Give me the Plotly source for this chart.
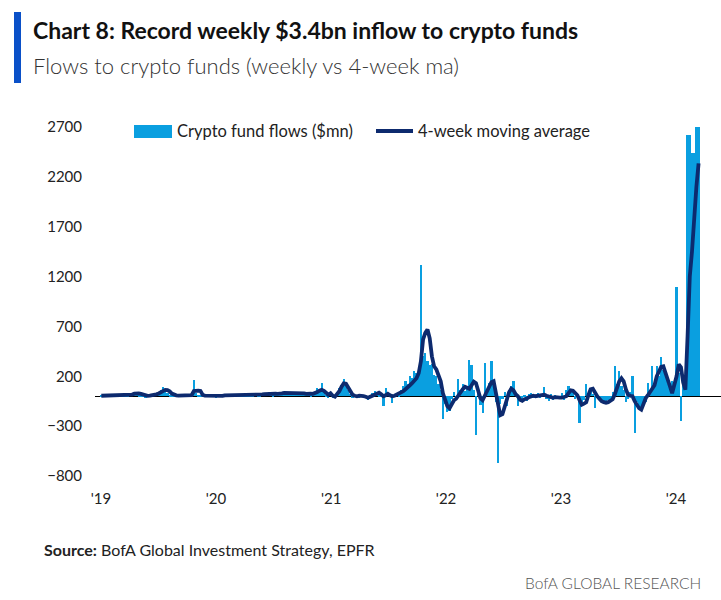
import plotly.graph_objects as go
import pandas as pd

# ---------------- data ($mn) ----------------
flows_2019 = [5, 8, 3, 10, 6, 12, 4, 9, 15, 7,
              10, 5, 12, 20, 30, 40, 25, 15, 10, 8,
              -10, 5, 10, 15, 20, 30, 45, 60, 95, 55,
              35, 10, 5, 8, 10, 6, 4, 8, 10, 5,
              12, 20, 165, 30, 10, 5, 8, 4, 6, 10,
              5, 8]
flows_2020 = [-10, 5, 10, 8, 12, 6, 15, 10, 5, 8,
              12, 10, 6, 10, 15, 12, 8, 10, 20, 15,
              10, 25, 30, 20, 45, 25, 15, 20, 30, 25,
              35, 45, 30, 40, 25, 35, 30, 40, 20, 25,
              30, 20, 35, 15, 25, 40, 85, 60, 130, 60,
              10, -10]
flows_2021 = [20, -10, 10, 40, 80, 110, 175, 100, 60, 20,
              -15, 10, 5, -10, 20, 10, -20, -40, 5, 30,
              50, 40, 15, -5, -100, 85, 20, 10, -65, 15,
              30, 10, 60, 100, 150, 120, 200, 180, 250, 230,
              280, 1320, 400, 430, 350, 310, 320, 210, 200, 120,
              60, -230]
flows_2022 = [-80, -160, -145, -30, 40, -20, 170, 60, 120, 50,
              90, 365, 310, 60, -385, 40, -90, -165, 330, 20,
              130, 350, 80, -60, -665, -80, -30, 40, -100, 60,
              100, 150, 30, -100, -40, -60, 10, -50, 20, 30,
              -20, 10, 30, -10, 20, 90, -30, -50, 20, -40,
              10, -30]
flows_2023 = [-20, 30, -40, 60, 105, 40, 70, -30, 20, -265,
              -60, -40, 125, 30, 80, 20, -115, -20, -40, -60,
              -50, -80, -40, -60, 40, 305, 120, 250, 100, 60,
              -60, -30, 40, 200, -365, -60, -120, -150, -90, -60,
              130, 60, 305, 120, 305, 200, 390, 260, 235, 120,
              60, 150]
flows_2024 = [120, 1100, 235, -250, 120, 60, 2615, 2615, 2440, 2440, 2700, 3400]

ma_2019 = [5, 6, 6, 7, 7, 8, 8, 8, 10, 9,
           10, 9, 9, 11, 17, 26, 29, 28, 23, 15,
           6, 3, 5, 7, 13, 19, 28, 38, 58, 64,
           61, 49, 26, 15, 9, 7, 7, 7, 7, 7,
           9, 12, 52, 57, 56, 53, 13, 7, 6, 7,
           6, 7]
ma_2020 = [7, 5, 6, 3, 9, 9, 10, 11, 9, 10,
           9, 9, 9, 10, 11, 11, 11, 11, 13, 13,
           14, 18, 20, 21, 30, 30, 26, 26, 23, 23,
           28, 34, 34, 38, 35, 33, 33, 33, 31, 29,
           29, 24, 28, 25, 24, 29, 41, 55, 65, 55,
           35, 15]
ma_2021 = [30, 5, -5, 20, 50, 95, 130, 125, 85, 40,
           15, 5, 0, 5, 5, 0, -5, -15, -5, 10,
           15, 25, 35, 20, 0, 10, 25, 10, 0, 5,
           15, 25, 35, 50, 70, 85, 110, 130, 160, 180,
           230, 350, 570, 635, 670, 580, 400, 300, 270, 220,
           150, 30]
ma_2022 = [-30, -100, -120, -80, -40, -25, 10, 35, 70, 95,
           80, 75, 110, 145, 130, 60, -20, -40, 10, 60,
           95, 140, 150, 30, -120, -190, -180, -110, -25, 40,
           75, 60, 20, 0, -35, -45, -30, -25, -10, 0,
           5, 0, 5, 10, 10, 15, 5, -5, -15, -15,
           -10, -15]
ma_2023 = [-15, -15, -10, 0, 30, 60, 55, 30, 10, -40,
           -85, -75, -60, 10, 70, 75, 30, 0, -25, -50,
           -60, -65, -60, -45, -30, 20, 80, 150, 180, 150,
           70, 15, 5, 0, -50, -90, -120, -135, -70, -20,
           10, 40, 75, 110, 200, 255, 295, 300, 240, 180,
           100, 30]
ma_2024 = [100, 200, 320, 290, 140, 65, 600, 1200, 1450, 1850, 2100, 2335]

year_ticks = ["2019-01-01", "2020-01-01", "2021-01-01", "2022-01-01", "2023-01-01", "2024-01-01"]
year_labels = ["'19", "'20", "'21", "'22", "'23", "'24"]
y_ticks = [-800, -300, 200, 700, 1200, 1700, 2200, 2700]

flows = flows_2019 + flows_2020 + flows_2021 + flows_2022 + flows_2023 + flows_2024
ma4 = ma_2019 + ma_2020 + ma_2021 + ma_2022 + ma_2023 + ma_2024
dates = pd.date_range("2019-01-02", periods=len(flows), freq="7D")

# ---------------- layout geometry ----------------
W, H = 721, 600
ML, MR, MT, MB = 95, 0, 127, 124
PW, PH = W - ML - MR, H - MT - MB
PX_PER_YEAR = 115.0
X0_PX = 101.0  # pixel of 2019-01-01

def px2x(px):
    return (px - ML) / PW

def py2y(py):
    return (H - MB - py) / PH

day_px = PX_PER_YEAR / 365.25
x_start = pd.Timestamp("2019-01-01") - pd.Timedelta(days=(X0_PX - ML) / day_px)
x_end = x_start + pd.Timedelta(days=PW / day_px)

BAR_COLOR = "#0a9fe0"
LINE_COLOR = "#0d2a6e"
FONT = "Lato, 'Open Sans', sans-serif"

fig = go.Figure()
fig.add_trace(go.Bar(x=dates, y=flows, name="Crypto fund flows ($mn)",
                     marker=dict(color=BAR_COLOR, line=dict(width=0)),
                     showlegend=False))
fig.add_trace(go.Scatter(x=dates, y=ma4, name="4-week moving average", mode="lines",
                         line=dict(color=LINE_COLOR, width=3.8), showlegend=False))

shapes = []
annotations = []

# left accent bar next to title
shapes.append(dict(type="rect", xref="paper", yref="paper",
                   x0=px2x(14), x1=px2x(21), y0=py2y(83), y1=py2y(12),
                   fillcolor="#0a50c8", line=dict(width=0)))

annotations.append(dict(text="<b>Chart 8: Record weekly $3.4bn inflow to crypto funds</b>",
                        xref="paper", yref="paper", x=px2x(31), y=py2y(30),
                        xanchor="left", yanchor="middle", showarrow=False,
                        font=dict(family=FONT, size=23, color="#111111", weight=900)))
annotations.append(dict(text="Flows to crypto funds (weekly vs 4-week ma)",
                        xref="paper", yref="paper", x=px2x(31), y=py2y(66),
                        xanchor="left", yanchor="middle", showarrow=False,
                        font=dict(family=FONT, size=22, color="#333333", weight=300)))

# custom legend
shapes.append(dict(type="rect", xref="paper", yref="paper",
                   x0=px2x(134), x1=px2x(172), y0=py2y(138), y1=py2y(125),
                   fillcolor=BAR_COLOR, line=dict(width=0)))
annotations.append(dict(text="Crypto fund flows ($mn)", xref="paper", yref="paper",
                        x=px2x(175), y=py2y(131), xanchor="left", yanchor="middle",
                        showarrow=False, font=dict(family=FONT, size=16.5, color="#222222")))
shapes.append(dict(type="line", xref="paper", yref="paper",
                   x0=px2x(376), x1=px2x(413), y0=py2y(131), y1=py2y(131),
                   line=dict(color=LINE_COLOR, width=3.8)))
annotations.append(dict(text="4-week moving average", xref="paper", yref="paper",
                        x=px2x(416), y=py2y(131), xanchor="left", yanchor="middle",
                        showarrow=False, font=dict(family=FONT, size=16.5, color="#222222")))

annotations.append(dict(text="<b>Source:</b> BofA Global Investment Strategy, EPFR",
                        xref="paper", yref="paper", x=px2x(42), y=py2y(549),
                        xanchor="left", yanchor="middle", showarrow=False,
                        font=dict(family=FONT, size=16, color="#222222")))
annotations.append(dict(text="BofA GLOBAL RESEARCH", xref="paper", yref="paper",
                        x=px2x(703), y=py2y(583), xanchor="right", yanchor="middle",
                        showarrow=False, font=dict(family=FONT, size=15.5, color="#555555", weight=300)))

fig.update_layout(
    width=W, height=H,
    margin=dict(l=ML, r=MR, t=MT, b=MB, pad=0),
    paper_bgcolor="white", plot_bgcolor="white",
    bargap=0,
    showlegend=False,
    font=dict(family=FONT, size=14, color="#222222"),
    shapes=shapes, annotations=annotations,
    xaxis=dict(type="date", range=[x_start, x_end], tickvals=year_ticks, ticktext=year_labels,
               showgrid=False, zeroline=False, showline=False, ticks="",
               tickfont=dict(size=15, color="#222222"), ticklabelstandoff=12),
    yaxis=dict(range=[-800, 2700], tickvals=y_ticks, showgrid=False,
               zeroline=True, zerolinecolor="#000000", zerolinewidth=1,
               showline=False, ticks="", tickfont=dict(size=15, color="#222222"),
               ticklabelstandoff=12),
)

fig.write_html("out.html", config={"displayModeBar": False},
               post_script="document.body.style.margin='0px';")
